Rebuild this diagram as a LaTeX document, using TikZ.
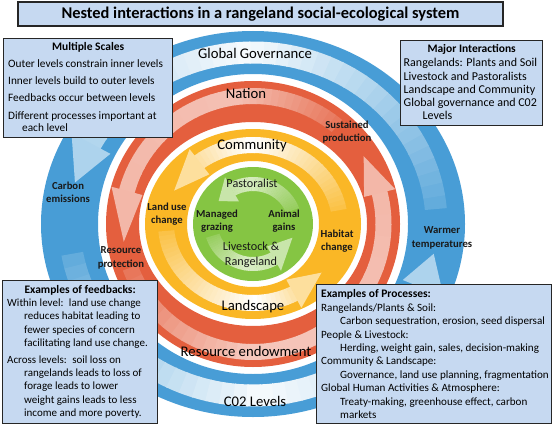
\documentclass[tikz,border=0pt]{standalone}
\usepackage{fontspec}
\setmainfont{Carlito}
\usetikzlibrary{positioning}

\definecolor{ringblue}{RGB}{72,157,214}
\definecolor{ringred}{RGB}{228,95,62}
\definecolor{ringyellow}{RGB}{250,183,38}
\definecolor{ringgreen}{RGB}{133,197,67}
\definecolor{boxblue}{RGB}{198,217,241}
\definecolor{boxline}{RGB}{38,38,38}

% curved arrow inside a ring: colour, radii x/y, half width,
% tail angle, lightest angle, head angle, tip angle, lightest percent
\newcommand{\ringarrow}[9]{%
  \pgfmathsetmacro{\rox}{#2+#4}\pgfmathsetmacro{\roy}{#3+#4}%
  \pgfmathsetmacro{\rix}{#2-#4}\pgfmathsetmacro{\riy}{#3-#4}%
  \foreach \k in {0,...,35}{%
    \pgfmathsetmacro{\angA}{#5+(#7-#5)*\k/36}%
    \pgfmathsetmacro{\angB}{#5+(#7-#5)*(\k+1)/36+0.4}%
    \pgfmathtruncatemacro{\pct}{\angA<#6 ? #9+(85-#9)*(#6-\angA)/(#6-#5) : #9+(45-#9)*(\angA-#6)/(#7-#6)}%
    \fill[#1!\pct!white] ({\rox*cos(\angA)},{\roy*sin(\angA)})
      arc[start angle=\angA, end angle=\angB, x radius=\rox, y radius=\roy]
      -- ({\rix*cos(\angB)},{\riy*sin(\angB)})
      arc[start angle=\angB, end angle=\angA, x radius=\rix, y radius=\riy] -- cycle;
  }%
  \pgfmathsetmacro{\hox}{#2+2*#4}\pgfmathsetmacro{\hoy}{#3+2*#4}%
  \pgfmathsetmacro{\hix}{#2-2*#4}\pgfmathsetmacro{\hiy}{#3-2*#4}%
  \fill[#1!45!white] ({\hox*cos(#7)},{\hoy*sin(#7)}) -- ({#2*cos(#8)},{#3*sin(#8)})
    -- ({\hix*cos(#7)},{\hiy*sin(#7)}) -- cycle;
}

\tikzset{
  ringlabel/.style={font=\fontsize{14.7}{16}\selectfont, inner sep=0pt},
  looplabel/.style={font=\bfseries\fontsize{10.7}{13.4}\selectfont, align=center, inner sep=0pt, text=black!90},
  corelabel/.style={font=\fontsize{12.2}{15}\selectfont, align=center, inner sep=0pt, text=black!90},
  infobox/.style={draw=boxline, line width=1.3pt, fill=boxblue, anchor=north west, inner sep=0pt},
  boxhead/.style={font=\bfseries\fontsize{11.5}{13.3}\selectfont, inner sep=0pt},
  boxtext/.style={font=\fontsize{11.3}{13.3}\selectfont, align=left, inner sep=0pt},
}

\begin{document}
\begin{tikzpicture}[x=1pt, y=-1pt]
  \useasboundingbox (0,0) rectangle (553,425);

  \begin{scope}[shift={(253,224)}, yscale=-1]
    % global ring (blue)
    \fill[ringblue, even odd rule] (0,0) ellipse [x radius=212, y radius=193]
      (0,0) ellipse [x radius=155, y radius=150];
    % nation ring (red)
    \fill[ringred, even odd rule] (0,0) ellipse [x radius=147, y radius=143]
      (0,0) ellipse [x radius=114, y radius=102];
    % landscape ring (yellow)
    \fill[ringyellow, even odd rule] (0,0) ellipse [x radius=108, y radius=95]
      (0,0) ellipse [x radius=66, y radius=63];
    % pastoral core (green)
    \fill[ringgreen] (0,0) ellipse [x radius=60, y radius=57];

    % feedback arrows, all turning anticlockwise
    \ringarrow{ringblue}{183.5}{171.5}{11}{5}{90}{152}{166}{5}
    \ringarrow{ringblue}{183.5}{171.5}{11}{190}{270}{338}{350}{5}
    \ringarrow{ringred}{130.5}{128}{8}{50}{95}{165}{188}{40}
    \ringarrow{ringred}{130.5}{128}{8}{200}{265}{374}{392}{35}
    \ringarrow{ringyellow}{87}{79}{8}{10}{90}{128}{155}{0}
    \ringarrow{ringyellow}{87}{79}{8}{185}{270}{298}{322}{0}
    \ringarrow{ringgreen}{42}{40}{7}{20}{90}{120}{145}{35}
    \ringarrow{ringgreen}{42}{40}{7}{197}{260}{300}{340}{30}
  \end{scope}

  % level names
  \node[ringlabel] (global) at (255,53) {Global Governance};
  \node[ringlabel] (nation) at (246,93) {Nation};
  \node[ringlabel] (community) at (252,146) {Community};
  \node[ringlabel] (landscape) at (253,307) {Landscape};
  \node[ringlabel] (endowment) at (246,351) {Resource endowment};
  \node[ringlabel] (co2) at (255,401) {C02 Levels};

  % arrow labels
  \node[looplabel] (emissions) at (68,192) {Carbon\\emissions};
  \node[looplabel] (warmer) at (442,238) {Warmer\\temperatures};
  \node[looplabel] (sustained) at (347,132) {Sustained\\production};
  \node[looplabel] (protection) at (121,258) {Resource\\protection};
  \node[looplabel] (landuse) at (167,214) {Land use\\change};
  \node[looplabel] (habitat) at (337,241) {Habitat\\change};
  \node[looplabel] (grazing) at (217,221) {Managed\\grazing};
  \node[looplabel] (gains) at (284,221) {Animal\\gains};
  \node[corelabel] (pastoralist) at (252,183) {Pastoralist};
  \node[corelabel] (livestock) at (251,255) {Livestock \&\\Rangeland};

  % title
  \node[infobox, anchor=center, minimum width=485pt, minimum height=24pt,
        font=\bfseries\fontsize{16.4}{18}\selectfont] (title) at (260.5,14)
        {Nested interactions in a rangeland social-ecological system};

  % multiple scales (top left)
  \node[infobox, minimum width=169pt, minimum height=99pt] (scalesbox) at (3,38) {};
  \node[boxhead, below=4.3pt of scalesbox.north] (scaleshead) {Multiple Scales};
  \node[boxtext, below right=21.2pt and 5pt of scalesbox.north west] (scalestext)
    {Outer levels constrain inner levels\\[4pt]
     Inner levels build to outer levels\\[4pt]
     Feedbacks occur between levels\\[4pt]
     Different processes important at\\[-1pt]
     \hspace*{14pt}each level};

  % major interactions (top right)
  \node[infobox, minimum width=142pt, minimum height=85pt] (majorbox) at (400,40) {};
  \node[boxhead, below=4.6pt of majorbox.north] (majorhead) {Major Interactions};
  \node[boxtext, font=\fontsize{12}{13.3}\selectfont, below right=18.2pt and 3.5pt of majorbox.north west] (majortext)
    {Rangelands: Plants and Soil\\
     Livestock and Pastoralists\\
     Landscape and Community\\
     Global governance and C02\\
     \hspace*{19pt}Levels};

  % feedbacks (bottom left)
  \node[infobox, minimum width=155pt, minimum height=143pt] (feedbox) at (2,280) {};
  \node[boxhead, below=5.6pt of feedbox.north] (feedhead) {Examples of feedbacks:};
  \node[boxtext, font=\fontsize{11}{13.3}\selectfont, below right=18.6pt and 5pt of feedbox.north west] (feedtext)
    {Within level:\enspace land use change\\
     \hspace*{17pt}reduces habitat leading to\\
     \hspace*{17pt}fewer species of concern\\
     \hspace*{17pt}facilitating land use change.\\[3.7pt]
     Across levels:\enspace soil loss on\\
     \hspace*{17pt}rangelands leads to loss of\\
     \hspace*{17pt}forage leads to lower\\
     \hspace*{17pt}weight gains leads to less\\
     \hspace*{17pt}income and more poverty.};

  % processes (bottom right)
  \node[infobox, minimum width=235pt, minimum height=139pt] (procbox) at (316,284) {};
  \node[boxtext, font=\fontsize{11.1}{13.4}\selectfont, below right=5.6pt and 5pt of procbox.north west] (proctext)
    {\textbf{\fontsize{11.5}{13.4}\selectfont Examples of Processes:}\\
     Rangelands/Plants \& Soil:\\
     \hspace*{19pt}Carbon sequestration, erosion, seed dispersal\\
     People \& Livestock:\\
     \hspace*{19pt}Herding, weight gain, sales, decision-making\\
     Community \& Landscape:\\
     \hspace*{19pt}Governance, land use planning, fragmentation\\
     Global Human Activities \& Atmosphere:\\
     \hspace*{19pt}Treaty-making, greenhouse effect, carbon\\
     \hspace*{19pt}markets};
\end{tikzpicture}
\end{document}
